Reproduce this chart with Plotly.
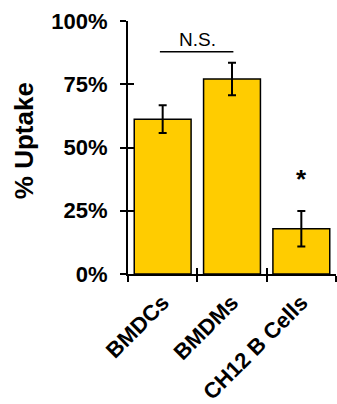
import plotly.graph_objects as go

# ---- data ----
categories = ["BMDCs", "BMDMs", "CH12 B Cells"]
uptake = [61.2, 77.1, 17.9]
uptake_err = [5.5, 6.4, 7.0]
y_ticks = [0, 25, 50, 75, 100]
y_tick_labels = ["0%", "25%", "50%", "75%", "100%"]
y_title = "% Uptake"
ns_pair = [0, 1]          # category indices joined by the N.S. bar
ns_level = 87.8           # height of the N.S. bar (%)
star_category = 2
star_level = 38

FONT = "Arial, Liberation Sans, sans-serif"
BAR_COLOR = "#FFCC00"

fig = go.Figure()
fig.add_trace(go.Bar(
    x=categories, y=uptake,
    marker=dict(color=BAR_COLOR, line=dict(color="black", width=1.5)),
    error_y=dict(type="data", array=uptake_err, visible=True,
                 color="black", thickness=2, width=4),
    width=0.82,
    showlegend=False,
))

fig.update_layout(
    template="none",
    width=337, height=404,
    margin=dict(l=128, r=1, t=21, b=130, autoexpand=False),
    plot_bgcolor="white", paper_bgcolor="white",
    font=dict(family=FONT, color="black"),
    xaxis=dict(
        type="category", range=[-0.5, 2.5], automargin=False,
        showline=True, linecolor="black", linewidth=2,
        ticks="outside", ticklen=6, tickwidth=2, tickcolor="black",
        tickson="boundaries", tickangle=-45, ticklabelstandoff=5,
        tickfont=dict(family=FONT, size=22, color="black", weight="bold"),
        showgrid=False, zeroline=False,
    ),
    yaxis=dict(
        range=[0, 100], tickvals=y_ticks, ticktext=y_tick_labels, automargin=False,
        showline=True, linecolor="black", linewidth=2,
        ticks="outside", ticklen=6, tickwidth=2, tickcolor="black",
        tickfont=dict(family=FONT, size=22, color="black", weight="bold"),
        ticklabelstandoff=8,
        showgrid=False, zeroline=False,
    ),
    # overlay axes only to draw the inside half of the crossing ticks
    xaxis2=dict(overlaying="x", anchor="y", side="bottom", range=[-0.5, 2.5],
                tick0=-0.5, dtick=1, ticks="inside", ticklen=6, tickwidth=2,
                tickcolor="black", showticklabels=False, showgrid=False,
                zeroline=False, showline=False, automargin=False),
    yaxis2=dict(overlaying="y", anchor="x", side="left", range=[0, 100],
                tickvals=y_ticks, ticks="inside", ticklen=6, tickwidth=2,
                tickcolor="black", showticklabels=False, showgrid=False,
                zeroline=False, showline=False, automargin=False),
)

# invisible trace so the overlay axes are drawn
fig.add_trace(go.Scatter(x=[0], y=[0], xaxis="x2", yaxis="y2", mode="markers",
                         marker=dict(opacity=0), showlegend=False, hoverinfo="skip"))

# y-axis title
fig.add_annotation(x=-0.5, y=0.525, xref="paper", yref="paper",
                   text=y_title, textangle=-90, showarrow=False,
                   xanchor="center", yanchor="middle",
                   font=dict(family=FONT, size=26, color="black", weight="bold"))

# N.S. bracket
fig.add_shape(type="line", xref="x", yref="y",
              x0=ns_pair[0] - 0.04, x1=ns_pair[1] + 0.02, y0=ns_level, y1=ns_level,
              line=dict(color="black", width=1.5))
fig.add_annotation(x=(ns_pair[0] + ns_pair[1]) / 2, y=ns_level, xref="x", yref="y",
                   text="N.S.", showarrow=False, yanchor="bottom", yshift=0,
                   font=dict(family=FONT, size=19, color="black"))
# significance star
fig.add_annotation(x=star_category, y=star_level, xref="x", yref="y",
                   text="*", showarrow=False, yanchor="middle", yshift=-1,
                   font=dict(family=FONT, size=26, color="black", weight="bold"))

fig.write_html("out.html", config={"displayModeBar": False},
               post_script="document.body.style.margin='0px';document.body.style.overflow='hidden';")
